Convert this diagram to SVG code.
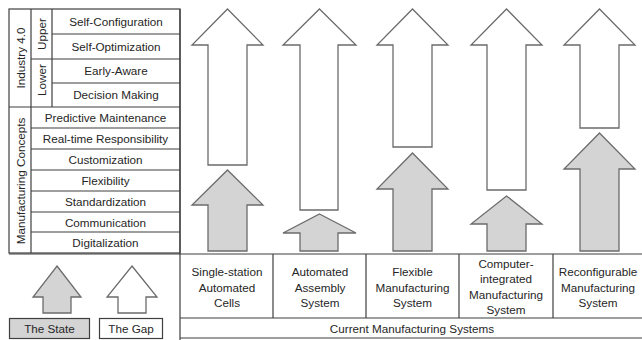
<svg xmlns="http://www.w3.org/2000/svg" width="642" height="340" viewBox="0 0 642 340">
<style>
.t{font-family:"Liberation Sans",Arial,sans-serif;font-size:11.7px;fill:#262626;text-anchor:middle}
.ln{stroke:#3f3f3f;stroke-width:1.2;fill:none}
.gap{fill:#ffffff;stroke:#6b6b6b;stroke-width:1.3;stroke-linejoin:miter}
.state{fill:#d4d4d4;stroke:#6b6b6b;stroke-width:1.3;stroke-linejoin:miter}
</style>
<rect width="642" height="340" fill="#ffffff"/>

<g id="table">
  <rect class="ln" x="9" y="9" width="171" height="244"/>
  <line class="ln" x1="31" y1="9" x2="31" y2="253"/>
  <line class="ln" x1="52" y1="9" x2="52" y2="107"/>
  <line class="ln" x1="9" y1="107" x2="180" y2="107"/>
  <line class="ln" x1="31" y1="59" x2="180" y2="59"/>
  <line class="ln" x1="52" y1="34" x2="180" y2="34"/>
  <line class="ln" x1="52" y1="83" x2="180" y2="83"/>
  <line class="ln" x1="31" y1="128" x2="180" y2="128"/>
  <line class="ln" x1="31" y1="149" x2="180" y2="149"/>
  <line class="ln" x1="31" y1="170" x2="180" y2="170"/>
  <line class="ln" x1="31" y1="191" x2="180" y2="191"/>
  <line class="ln" x1="31" y1="212" x2="180" y2="212"/>
  <line class="ln" x1="31" y1="232" x2="180" y2="232"/>
  <text class="t" transform="translate(24.5,58) rotate(-90)">Industry 4.0</text>
  <text class="t" transform="translate(45.5,34) rotate(-90)">Upper</text>
  <text class="t" transform="translate(45.5,80) rotate(-90)">Lower</text>
  <text class="t" transform="translate(24.5,181) rotate(-90)">Manufacturing Concepts</text>
  <text class="t" x="116" y="26">Self-Configuration</text>
  <text class="t" x="116" y="51">Self-Optimization</text>
  <text class="t" x="116" y="75">Early-Aware</text>
  <text class="t" x="116" y="99">Decision Making</text>
  <text class="t" x="105.5" y="122">Predictive Maintenance</text>
  <text class="t" x="105.5" y="143">Real-time Responsibility</text>
  <text class="t" x="105.5" y="164">Customization</text>
  <text class="t" x="105.5" y="185">Flexibility</text>
  <text class="t" x="105.5" y="206">Standardization</text>
  <text class="t" x="105.5" y="226.5">Communication</text>
  <text class="t" x="105.5" y="247">Digitalization</text>
</g>

<g id="systems">
  <line class="ln" x1="180" y1="9" x2="180" y2="340"/>
  <line class="ln" x1="9" y1="254" x2="642" y2="254"/>
  <line class="ln" x1="180" y1="318" x2="642" y2="318"/>
  <line class="ln" x1="180" y1="338" x2="642" y2="338"/>
  <line class="ln" x1="273" y1="254" x2="273" y2="318"/>
  <line class="ln" x1="366" y1="254" x2="366" y2="318"/>
  <line class="ln" x1="459" y1="254" x2="459" y2="318"/>
  <line class="ln" x1="553" y1="254" x2="553" y2="318"/>
  <text class="t" x="227" y="276">Single-station</text>
  <text class="t" x="227" y="291.5">Automated</text>
  <text class="t" x="227" y="307">Cells</text>
  <text class="t" x="320" y="276">Automated</text>
  <text class="t" x="320" y="291.5">Assembly</text>
  <text class="t" x="320" y="307">System</text>
  <text class="t" x="412.5" y="276">Flexible</text>
  <text class="t" x="412.5" y="291.5">Manufacturing</text>
  <text class="t" x="412.5" y="307">System</text>
  <text class="t" x="506" y="268">Computer-</text>
  <text class="t" x="506" y="283">integrated</text>
  <text class="t" x="506" y="298.5">Manufacturing</text>
  <text class="t" x="506" y="314">System</text>
  <text class="t" x="598" y="276">Reconfigurable</text>
  <text class="t" x="598" y="291.5">Manufacturing</text>
  <text class="t" x="598" y="307">System</text>
  <text class="t" x="412" y="333">Current Manufacturing Systems</text>
</g>

<g id="arrows">
  <path class="gap" d="M227.5,9 L263,45 L247,45 L247,165 L208,165 L208,45 L192,45 Z"/>
  <path class="state" d="M227.5,170 L263,205 L247,205 L247,251 L208,251 L208,205 L192,205 Z"/>
  <path class="gap" d="M319.5,9 L356,45 L338,45 L338,210 L300,210 L300,45 L283,45 Z"/>
  <path class="state" d="M319.5,214 L356,233 L338,233 L338,251 L300,251 L300,233 L283,233 Z"/>
  <path class="gap" d="M412.5,9 L448,45 L432,45 L432,147 L393,147 L393,45 L377,45 Z"/>
  <path class="state" d="M412.5,153 L448,189 L432,189 L432,251 L393,251 L393,189 L377,189 Z"/>
  <path class="gap" d="M506.5,9 L542,45 L526,45 L526,190 L487,190 L487,45 L471,45 Z"/>
  <path class="state" d="M506.5,196 L542,224 L526,224 L526,251 L487,251 L487,224 L471,224 Z"/>
  <path class="gap" d="M599.5,9 L635,45 L619,45 L619,128 L580,128 L580,45 L564,45 Z"/>
  <path class="state" d="M599.5,133 L635,169 L619,169 L619,251 L580,251 L580,169 L564,169 Z"/>
</g>

<g id="legend">
  <path class="state" d="M57,266 L81,297 L71,297 L71,313 L43,313 L43,297 L33,297 Z"/>
  <path class="gap" d="M132,266 L157,297 L146,297 L146,313 L118,313 L118,297 L107,297 Z"/>
  <rect x="9.5" y="318.5" width="80" height="20" fill="#d4d4d4" stroke="#3f3f3f" stroke-width="1.2"/>
  <rect x="99.5" y="318.5" width="63" height="20" fill="#ffffff" stroke="#3f3f3f" stroke-width="1.2"/>
  <text class="t" x="49.5" y="333">The State</text>
  <text class="t" x="131" y="333">The Gap</text>
</g>
</svg>
